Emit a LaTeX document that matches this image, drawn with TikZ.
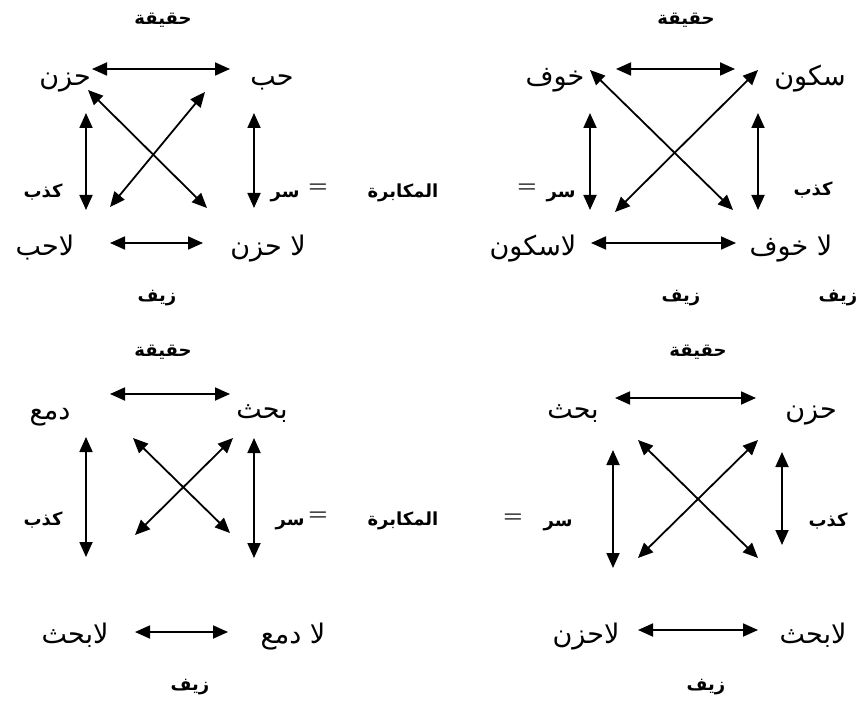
\documentclass[tikz,border=0pt]{standalone}
\usepackage{fontspec}
\TeXXeTstate=1
\newfontfamily\arabicfont[Script=Arabic]{DejaVu Sans}
\usetikzlibrary{arrows.meta}
\newcommand\arx[1]{\beginR #1\endR}
\tikzset{
  word/.style={font=\arabicfont\fontsize{27}{30}\selectfont, inner sep=0pt, anchor=base, yshift=-3pt},
  lab/.style={font=\arabicfont\bfseries\fontsize{18}{20}\selectfont, inner sep=0pt, anchor=base, yshift=-3pt},
  eqs/.style={font=\bfseries\fontsize{22}{24}\selectfont, inner sep=0pt},
  dbl/.style={{Triangle[length=15pt,width=13pt]}-{Triangle[length=15pt,width=13pt]}, line width=1.8pt},
}
\begin{document}
\begin{tikzpicture}[x=1pt,y=-1pt]
\useasboundingbox[fill=white] (0,0) rectangle (866,708);

% ---------- Panel 1 (top left)
\node[lab]  (t1) at (163,22)  {\arx{حقيقة}};
\node[word] (a1) at (65,83)   {\arx{حزن}};
\node[word] (b1) at (272,83)  {\arx{حب}};
\node[word] (c1) at (45,252)  {\arx{لاحب}};
\node[word] (d1) at (268,252) {\arx{لا حزن}};
\node[lab]  (k1) at (43,195)  {\arx{كذب}};
\node[lab]  (s1) at (285,195) {\arx{سر}};
\node[eqs]  (e1) at (318,188) {=};
\node[lab]  (m1) at (403,195) {\arx{المكابرة}};
\node[lab]  (z1) at (157,298) {\arx{زيف}};
\coordinate (p1h1) at (92,69);   \coordinate (p1h2) at (230,69);
\coordinate (p1x1) at (88,90);   \coordinate (p1x2) at (207,208);
\coordinate (p1y1) at (205,92);  \coordinate (p1y2) at (110,207);
\coordinate (p1l1) at (86,113);  \coordinate (p1l2) at (86,210);
\coordinate (p1r1) at (254,113); \coordinate (p1r2) at (254,208);
\coordinate (p1b1) at (110,243); \coordinate (p1b2) at (203,243);
\draw[dbl] (p1h1) -- (p1h2);
\draw[dbl] (p1x1) -- (p1x2);
\draw[dbl] (p1y1) -- (p1y2);
\draw[dbl] (p1l1) -- (p1l2);
\draw[dbl] (p1r1) -- (p1r2);
\draw[dbl] (p1b1) -- (p1b2);

% ---------- Panel 2 (top right)
\node[lab]  (t2) at (686,22)  {\arx{حقيقة}};
\node[word] (a2) at (555,83)  {\arx{خوف}};
\node[word] (b2) at (810,83)  {\arx{سكون}};
\node[word] (c2) at (533,252) {\arx{لاسكون}};
\node[word] (d2) at (791,252) {\arx{لا خوف}};
\node[lab]  (s2) at (561,195) {\arx{سر}};
\node[eqs]  (e2) at (527,188) {=};
\node[lab]  (k2) at (813,193) {\arx{كذب}};
\node[lab]  (z2) at (681,298) {\arx{زيف}};
\node[lab]  (z2b) at (838,298) {\arx{زيف}};
\coordinate (p2h1) at (616,69);  \coordinate (p2h2) at (735,69);
\coordinate (p2x1) at (590,70);  \coordinate (p2x2) at (733,210);
\coordinate (p2y1) at (758,70);  \coordinate (p2y2) at (615,212);
\coordinate (p2l1) at (590,113); \coordinate (p2l2) at (590,210);
\coordinate (p2r1) at (758,113); \coordinate (p2r2) at (758,210);
\coordinate (p2b1) at (591,243); \coordinate (p2b2) at (736,243);
\draw[dbl] (p2h1) -- (p2h2);
\draw[dbl] (p2x1) -- (p2x2);
\draw[dbl] (p2y1) -- (p2y2);
\draw[dbl] (p2l1) -- (p2l2);
\draw[dbl] (p2r1) -- (p2r2);
\draw[dbl] (p2b1) -- (p2b2);

% ---------- Panel 3 (bottom left)
\node[lab]  (t3) at (163,353) {\arx{حقيقة}};
\node[word] (a3) at (50,416)  {\arx{دمع}};
\node[word] (b3) at (262,415) {\arx{بحث}};
\node[word] (c3) at (75,640)  {\arx{لابحث}};
\node[word] (d3) at (293,640) {\arx{لا دمع}};
\node[lab]  (k3) at (43,522)  {\arx{كذب}};
\node[lab]  (s3) at (290,522) {\arx{سر}};
\node[eqs]  (e3) at (318,516) {=};
\node[lab]  (m3) at (403,522) {\arx{المكابرة}};
\node[lab]  (z3) at (190,687) {\arx{زيف}};
\coordinate (p3h1) at (110,394); \coordinate (p3h2) at (230,394);
\coordinate (p3x1) at (133,438); \coordinate (p3x2) at (230,533);
\coordinate (p3y1) at (233,438); \coordinate (p3y2) at (135,535);
\coordinate (p3l1) at (86,437);  \coordinate (p3l2) at (86,557);
\coordinate (p3r1) at (254,438); \coordinate (p3r2) at (254,558);
\coordinate (p3b1) at (135,632); \coordinate (p3b2) at (228,632);
\draw[dbl] (p3h1) -- (p3h2);
\draw[dbl] (p3x1) -- (p3x2);
\draw[dbl] (p3y1) -- (p3y2);
\draw[dbl] (p3l1) -- (p3l2);
\draw[dbl] (p3r1) -- (p3r2);
\draw[dbl] (p3b1) -- (p3b2);

% ---------- Panel 4 (bottom right)
\node[lab]  (t4) at (698,353) {\arx{حقيقة}};
\node[word] (a4) at (573,415) {\arx{بحث}};
\node[word] (b4) at (811,415) {\arx{حزن}};
\node[word] (c4) at (586,640) {\arx{لاحزن}};
\node[word] (d4) at (813,640) {\arx{لابحث}};
\node[lab]  (s4) at (558,523) {\arx{سر}};
\node[eqs]  (e4) at (513,518) {=};
\node[lab]  (k4) at (828,523) {\arx{كذب}};
\node[lab]  (z4) at (706,687) {\arx{زيف}};
\coordinate (p4h1) at (615,398); \coordinate (p4h2) at (756,398);
\coordinate (p4x1) at (638,440); \coordinate (p4x2) at (758,558);
\coordinate (p4y1) at (758,440); \coordinate (p4y2) at (638,558);
\coordinate (p4l1) at (613,450); \coordinate (p4l2) at (613,568);
\coordinate (p4r1) at (782,452); \coordinate (p4r2) at (782,545);
\coordinate (p4b1) at (638,630); \coordinate (p4b2) at (758,630);
\draw[dbl] (p4h1) -- (p4h2);
\draw[dbl] (p4x1) -- (p4x2);
\draw[dbl] (p4y1) -- (p4y2);
\draw[dbl] (p4l1) -- (p4l2);
\draw[dbl] (p4r1) -- (p4r2);
\draw[dbl] (p4b1) -- (p4b2);
\end{tikzpicture}
\end{document}
